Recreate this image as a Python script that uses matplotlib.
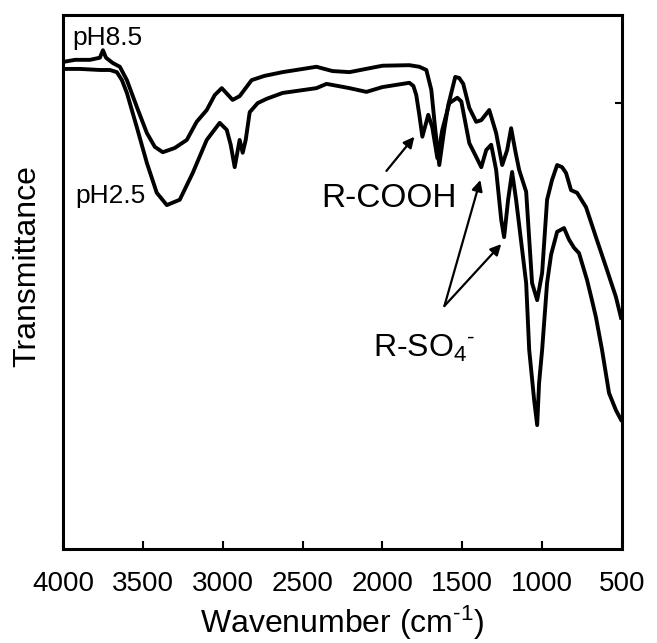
import matplotlib
matplotlib.use('Agg')
import matplotlib.pyplot as plt

plt.rcParams['font.family'] = ['Liberation Sans', 'DejaVu Sans']
plt.rcParams['mathtext.fontset'] = 'custom'
plt.rcParams['mathtext.rm'] = 'Liberation Sans'
plt.rcParams['mathtext.it'] = 'Liberation Sans:italic'

# FTIR spectra (wavenumber in cm-1, transmittance in arbitrary units)
wn_ph85 = [4000, 3925, 3831, 3769, 3750, 3731, 3688, 3644, 3600, 3538, 3475, 3425,
           3375, 3300, 3225, 3163, 3100, 3050, 3006, 2938, 2894, 2819, 2738, 2625,
           2413, 2313, 2206, 2000, 1831, 1769, 1725, 1694, 1669, 1644, 1613, 1588,
           1544, 1519, 1494, 1456, 1413, 1381, 1331, 1288, 1250, 1219, 1194, 1169,
           1144, 1100, 1063, 1031, 1000, 969, 938, 906, 875, 850, 819, 781, 725,
           663, 600, 538, 506]
t_ph85 = [91.2, 91.6, 91.6, 92.0, 93.4, 92.0, 91.0, 90.3, 87.8, 82.8, 77.9, 75.3,
          74.3, 75.1, 76.6, 80.0, 82.2, 85.0, 86.3, 84.1, 84.8, 87.8, 88.6, 89.3,
          90.3, 89.5, 89.3, 90.5, 90.6, 90.3, 89.7, 86.0, 78.5, 71.9, 78.5, 83.1,
          88.4, 88.2, 87.1, 82.6, 80.0, 80.3, 82.2, 77.9, 71.9, 74.7, 78.8, 74.7,
          71.0, 66.9, 49.8, 46.6, 51.7, 65.4, 69.1, 71.9, 71.5, 70.4, 67.2, 66.7, 64.0,
          58.4, 52.8, 47.2, 43.3]

wn_ph25 = [4000, 3894, 3769, 3706, 3663, 3631, 3600, 3538, 3475, 3413, 3350, 3269,
           3188, 3100, 3019, 2975, 2950, 2925, 2894, 2875, 2856, 2831, 2781, 2725,
           2625, 2413, 2350, 2206, 2100, 2000, 1831, 1806, 1788, 1769, 1750, 1713,
           1688, 1656, 1625, 1581, 1531, 1506, 1456, 1419, 1381, 1350, 1319, 1288,
           1256, 1238, 1213, 1188, 1163, 1125, 1100, 1081, 1050, 1031, 1019, 1000,
           969, 944, 906, 863, 831, 800, 769, 719, 688, 663, 625, 581, 538, 506]
t_ph25 = [89.9, 89.9, 89.7, 89.7, 89.3, 87.8, 85.4, 79.0, 72.3, 66.7, 64.4, 65.4,
          70.4, 76.6, 79.8, 78.5, 75.7, 71.5, 76.6, 74.2, 76.6, 81.8, 83.5, 84.3,
          85.4, 86.3, 87.1, 86.3, 85.6, 86.5, 87.3, 86.7, 85.0, 81.3, 77.2, 81.3,
          79.0, 73.2, 78.5, 83.5, 84.5, 83.8, 76.0, 73.8, 71.5, 74.7, 75.7, 71.0,
          61.6, 58.4, 65.4, 70.6, 65.4, 56.0, 49.8, 37.3, 27.9, 23.2, 31.1, 37.3,
          49.8, 55.1, 59.4, 60.1, 57.9, 56.4, 55.4, 50.4, 46.6, 43.4, 37.3, 29.2, 26.0, 24.2]

xticks = [4000, 3500, 3000, 2500, 2000, 1500, 1000, 500]

fig = plt.figure(figsize=(6.57, 6.43), dpi=100)
ax = fig.add_axes([0.0959, 0.1462, 0.8508, 0.8305])

ax.plot(wn_ph85, t_ph85, color='black', lw=2.8)
ax.plot(wn_ph25, t_ph25, color='black', lw=2.8)

ax.set_xlim(4000, 500)
ax.set_ylim(0, 100)
ax.set_xticks(xticks)
ax.set_yticks([83.5])
ax.tick_params(axis='x', direction='in', length=6, width=1.5, labelsize=20, pad=16, top=False)
ax.tick_params(axis='y', direction='in', length=5, width=1.5, left=False, right=True,
               labelleft=False, labelright=False)
for s in ax.spines.values():
    s.set_linewidth(2.2)

ax.set_xlabel(r'Wavenumber (cm$^{\text{-1}}$)', fontsize=23, labelpad=5)
ax.set_ylabel('Transmittance', fontsize=23)
ax.yaxis.set_label_coords(-0.038, 0.53)

# labels and arrows
ax.text(3944, 94.4, 'pH8.5', fontsize=19, va='baseline')
ax.text(3925, 64.8, 'pH2.5', fontsize=19, va='baseline')
ax.text(2381, 64.0, 'R-COOH', fontsize=24, va='baseline')
ax.text(2056, 36.0, r'R-SO$_4$$^{\text{-}}$', fontsize=23, va='baseline')

arrow = dict(arrowstyle='-|>', color='black', lw=1.6, mutation_scale=16, shrinkA=0, shrinkB=0)
ax.annotate('', xy=(1800, 77.2), xytext=(1975, 70.8), arrowprops=arrow)
ax.annotate('', xy=(1387, 69.1), xytext=(1612, 45.5), arrowprops=arrow)
ax.annotate('', xy=(1256, 57.1), xytext=(1612, 45.5), arrowprops=arrow)

fig.savefig('out.png', dpi=100)
